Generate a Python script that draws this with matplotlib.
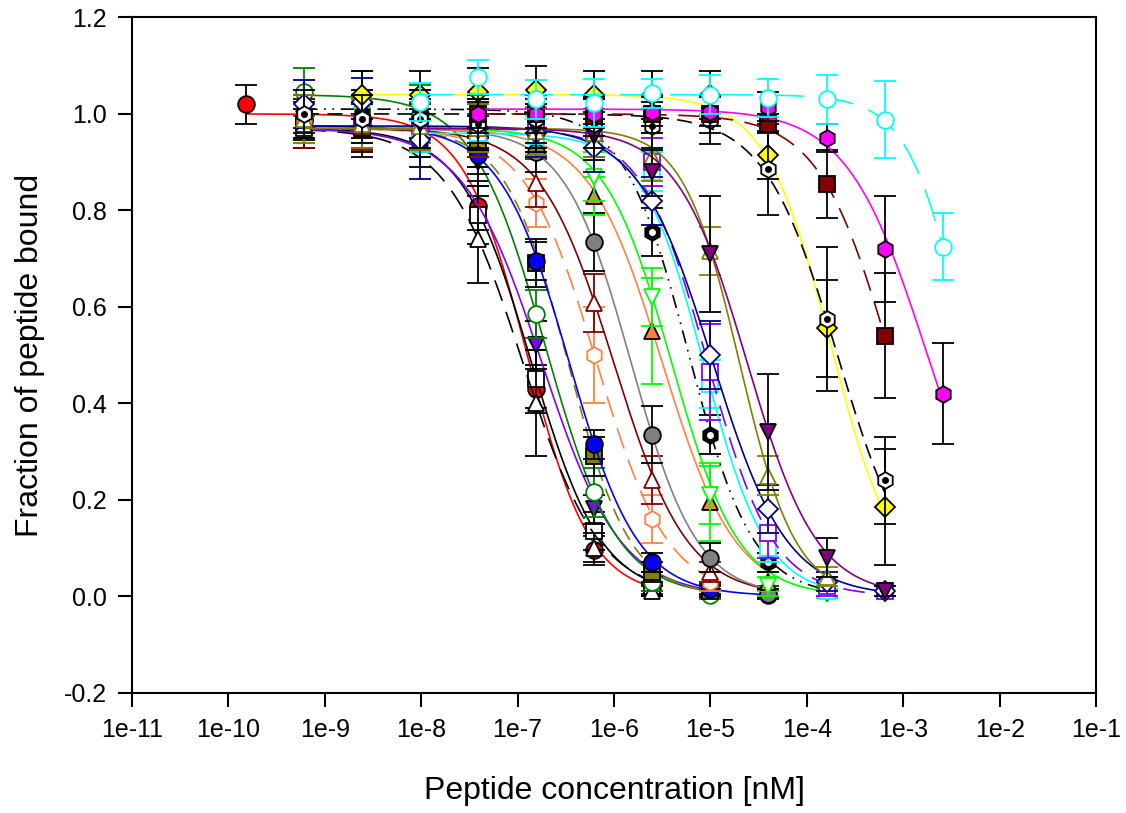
import matplotlib
matplotlib.use("Agg")
import matplotlib.pyplot as plt
import numpy as np

plt.rcParams['font.family'] = ['Liberation Sans', 'DejaVu Sans']

# dilution series (nM), 4-fold steps
conc = [1.53e-10, 6.1e-10, 2.44e-9, 9.77e-9, 3.91e-8, 1.56e-7, 6.25e-7,
        2.5e-6, 1e-5, 4e-5, 1.6e-4, 6.4e-4, 2.56e-3]

x_ticks = [1e-11, 1e-10, 1e-9, 1e-8, 1e-7, 1e-6, 1e-5, 1e-4, 1e-3, 1e-2, 1e-1]
x_tick_labels = ['1e-11', '1e-10', '1e-9', '1e-8', '1e-7', '1e-6', '1e-5',
                 '1e-4', '1e-3', '1e-2', '1e-1']
y_ticks = [-0.2, 0.0, 0.2, 0.4, 0.6, 0.8, 1.0, 1.2]

# series: index of first concentration, measured fraction bound, error
red_circle_start = 0
red_circle_y = [1.02, 0.99, 0.98, 0.97, 0.81, 0.43, 0.095, 0.015]
red_circle_err = [0.04, 0.04, 0.05, 0.06, 0.05, 0.05, 0.03, 0.01]

black_square_start = 1
black_square_y = [0.97, 0.98, 0.97, 0.79, 0.45, 0.135, 0.02]
black_square_err = [0.04, 0.05, 0.06, 0.06, 0.06, 0.04, 0.02]

black_triangle_start = 1
black_triangle_y = [0.98, 0.97, 0.95, 0.74, 0.40, 0.10, 0.01]
black_triangle_err = [0.05, 0.06, 0.06, 0.09, 0.11, 0.03, 0.01]

violet_tri_start = 1
violet_tri_y = [0.99, 0.98, 0.97, 0.90, 0.52, 0.18, 0.03, 0.005]
violet_tri_err = [0.04, 0.05, 0.05, 0.05, 0.05, 0.03, 0.02, 0.01]

green_circle_start = 1
green_circle_y = [1.045, 1.03, 1.0, 0.95, 0.585, 0.215, 0.03, 0.003]
green_circle_err = [0.05, 0.06, 0.06, 0.06, 0.05, 0.05, 0.02, 0.01]

olive_square_start = 1
olive_square_y = [0.98, 0.97, 0.97, 0.93, 0.69, 0.29, 0.05, 0.01]
olive_square_err = [0.05, 0.05, 0.05, 0.04, 0.05, 0.04, 0.02, 0.01]

blue_circle_start = 1
blue_circle_y = [0.985, 0.99, 0.97, 0.915, 0.695, 0.315, 0.07, 0.015, 0.003]
blue_circle_err = [0.04, 0.05, 0.05, 0.04, 0.04, 0.03, 0.02, 0.01, 0.01]

coral_hex_start = 1
coral_hex_y = [0.99, 0.98, 0.97, 0.96, 0.815, 0.50, 0.16, 0.03]
coral_hex_err = [0.05, 0.05, 0.05, 0.05, 0.05, 0.10, 0.05, 0.02]

darkred_tri_start = 1
darkred_tri_y = [0.98, 0.975, 0.97, 0.96, 0.857, 0.608, 0.24, 0.05, 0.01]
darkred_tri_err = [0.05, 0.05, 0.05, 0.05, 0.05, 0.06, 0.05, 0.02, 0.01]

gray_circle_start = 2
gray_circle_y = [0.99, 0.97, 0.97, 0.92, 0.735, 0.335, 0.08, 0.005]
gray_circle_err = [0.05, 0.05, 0.05, 0.04, 0.06, 0.06, 0.03, 0.01]

coral_tri_start = 2
coral_tri_y = [0.99, 0.98, 0.97, 0.96, 0.83, 0.55, 0.195, 0.03]
coral_tri_err = [0.05, 0.05, 0.05, 0.05, 0.04, 0.11, 0.08, 0.02]

lime_tri_start = 2
lime_tri_y = [1.0, 0.98, 0.97, 0.97, 0.87, 0.62, 0.21, 0.02, 0.005]
lime_tri_err = [0.05, 0.05, 0.05, 0.05, 0.05, 0.06, 0.06, 0.02, 0.01]

black_hex_start = 1
black_hex_y = [1.0, 1.0, 1.0, 0.99, 0.97, 0.96, 0.755, 0.335, 0.07, 0.01]
black_hex_err = [0.04, 0.05, 0.05, 0.05, 0.04, 0.05, 0.05, 0.04, 0.02, 0.01]

cyan_square_start = 3
cyan_square_y = [0.96, 0.96, 0.955, 0.95, 0.88, 0.44, 0.10, 0.01]
cyan_square_err = [0.04, 0.04, 0.04, 0.04, 0.04, 0.05, 0.03, 0.01]

violet_square_start = 2
violet_square_y = [0.98, 0.975, 0.97, 0.97, 0.96, 0.90, 0.465, 0.13, 0.02, 0.01]
violet_square_err = [0.05, 0.05, 0.05, 0.05, 0.05, 0.05, 0.10, 0.05, 0.02, 0.01]

navy_diamond_start = 1
navy_diamond_y = [1.02, 1.025, 0.945, 0.97, 0.96, 0.93, 0.82, 0.50, 0.18, 0.03, 0.01]
navy_diamond_err = [0.05, 0.05, 0.08, 0.05, 0.05, 0.05, 0.05, 0.07, 0.05, 0.02, 0.01]

olive_tri_start = 1
olive_tri_y = [0.99, 0.98, 0.975, 0.97, 0.965, 0.96, 0.91, 0.715, 0.25, 0.04]
olive_tri_err = [0.05, 0.05, 0.05, 0.05, 0.05, 0.05, 0.05, 0.05, 0.04, 0.02]

purple_tri_start = 3
purple_tri_y = [0.98, 0.975, 0.97, 0.955, 0.88, 0.71, 0.34, 0.08, 0.01]
purple_tri_err = [0.05, 0.05, 0.05, 0.05, 0.05, 0.12, 0.12, 0.04, 0.01]

yellow_diamond_start = 2
yellow_diamond_y = [1.04, 1.04, 1.045, 1.05, 1.04, 1.04, 1.04, 0.915, 0.555, 0.185]
yellow_diamond_err = [0.05, 0.05, 0.05, 0.05, 0.05, 0.05, 0.05, 0.05, 0.10, 0.12]

white_hex_start = 1
white_hex_y = [1.0, 0.99, 0.99, 0.98, 0.99, 0.98, 0.975, 0.987, 0.885, 0.575, 0.24]
white_hex_err = [0.05, 0.05, 0.06, 0.05, 0.05, 0.05, 0.05, 0.05, 0.095, 0.15, 0.09]

maroon_square_start = 4
maroon_square_y = [1.0, 1.0, 0.995, 1.0, 1.0, 0.98, 0.855, 0.54]
maroon_square_err = [0.04, 0.04, 0.04, 0.04, 0.04, 0.02, 0.07, 0.13]

magenta_hex_start = 4
magenta_hex_y = [1.0, 1.0, 1.0, 1.005, 1.005, 1.015, 0.95, 0.72, 0.42]
magenta_hex_err = [0.03, 0.03, 0.03, 0.03, 0.03, 0.03, 0.03, 0.11, 0.105]

cyan_circle_start = 3
cyan_circle_y = [1.025, 1.077, 1.03, 1.023, 1.043, 1.04, 1.033, 1.03, 0.988, 0.725]
cyan_circle_err = [0.04, 0.035, 0.04, 0.05, 0.03, 0.04, 0.04, 0.05, 0.08, 0.07]

# four-parameter logistic fits (bottom = 0)
series_names = ['red_circle', 'black_square', 'black_triangle', 'violet_tri',
                'green_circle', 'olive_square', 'blue_circle', 'coral_hex',
                'darkred_tri', 'gray_circle', 'coral_tri', 'lime_tri',
                'black_hex', 'cyan_square', 'violet_square', 'navy_diamond',
                'olive_tri', 'purple_tri', 'yellow_diamond', 'white_hex',
                'maroon_square', 'magenta_hex', 'cyan_circle']
fit_top = [1.0, 0.97, 0.97, 0.97, 1.04, 0.97, 0.975, 0.97, 0.97, 0.97, 0.97, 0.97,
           1.01, 0.96, 0.97, 0.975, 0.97, 0.97, 1.04, 1.0, 1.0, 1.01, 1.04]
fit_ic50 = [1.26e-7, 1.39e-7, 1.13e-7, 1.78e-7, 1.93e-7, 3.33e-7, 3.4e-7, 6.6e-7,
            9.9e-7, 1.5e-6, 3.16e-6, 3.95e-6, 5.9e-6, 8.6e-6, 9.35e-6, 1.05e-5,
            2.0e-5, 2.4e-5, 1.78e-4, 2.08e-4, 7.35e-4, 1.75e-3, 4.5e-3]
fit_hill = [1.32, 1.2, 1.1, 1.07, 1.17, 1.35, 1.22, 1.18, 1.14, 1.27, 1.15, 1.25,
            1.3, 1.35, 1.28, 1.13, 1.5, 1.2, 1.27, 1.15, 1.16, 1.05, 1.48]

LONG = (13, 7)
styles = {
    'red_circle': dict(c='#ff0000', m='o', fc='#ff0000', ls='-', ec='black'),
    'black_square': dict(c='black', m='s', fc='white', ls='-', ec='black'),
    'black_triangle': dict(c='black', m='^', fc='white', ls=(0, LONG), ec='black'),
    'violet_tri': dict(c='#8000ff', m='v', fc='#8000ff', ls='-', ec='black'),
    'green_circle': dict(c='#008000', m='o', fc='white', ls='-', ec='#008000'),
    'olive_square': dict(c='#808000', m='s', fc='#808000', ls=(0, (8, 5)), ec='black'),
    'blue_circle': dict(c='#0000ff', m='o', fc='#0000ff', ls='-', ec='black'),
    'coral_hex': dict(c='#ff8040', m='h', fc='white', ls=(0, LONG), ec='#ff8040'),
    'darkred_tri': dict(c='#800000', m='^', fc='white', ls='-', ec='#800000'),
    'gray_circle': dict(c='#808080', m='o', fc='#808080', ls='-', ec='black'),
    'coral_tri': dict(c='#ff8040', m='^', fc='#ff8040', ls='-', ec='#00ff00'),
    'lime_tri': dict(c='#00ff00', m='v', fc='white', ls='-', ec='#00ff00'),
    'black_hex': dict(c='black', m='h', fc='black', ls=(0, (8, 4, 1, 4, 1, 4)), ec='black'),
    'cyan_square': dict(c='#00ffff', m='s', fc='white', ls='-', ec='#00ffff'),
    'violet_square': dict(c='#8000ff', m='s', fc='white', ls=(0, LONG), ec='#8000ff'),
    'navy_diamond': dict(c='#000080', m='D', fc='white', ls='-', ec='#000080'),
    'olive_tri': dict(c='#808000', m='^', fc='white', ls='-', ec='#808000'),
    'purple_tri': dict(c='#800080', m='v', fc='#800080', ls='-', ec='black'),
    'yellow_diamond': dict(c='#ffff00', m='D', fc='#ffff00', ls='-', ec='black'),
    'white_hex': dict(c='black', m='h', fc='white', ls=(0, (9, 5)), ec='black'),
    'maroon_square': dict(c='#800000', m='s', fc='#800000', ls=(0, LONG), ec='black'),
    'magenta_hex': dict(c='#ff00ff', m='h', fc='#ff00ff', ls='-', ec='black'),
    'cyan_circle': dict(c='#00ffff', m='o', fc='white', ls=(0, (20, 10)), ec='#00ffff'),
}


def hill(x, top, ic50, h):
    return top / (1.0 + (x / ic50) ** h)


fig = plt.figure(figsize=(11.26, 8.13), dpi=100)
ax = fig.add_axes([0.1172, 0.1482, 0.8562, 0.8303])

data = globals()
for i, name in enumerate(series_names):
    st = styles[name]
    start = data[name + '_start']
    y = np.array(data[name + '_y'])
    err = np.array(data[name + '_err'])
    x = np.array(conc[start:start + len(y)])
    z = 2 + i * 0.01

    xs = np.logspace(np.log10(x[0]), np.log10(x[-1]), 300)
    ax.plot(xs, hill(xs, fit_top[i], fit_ic50[i], fit_hill[i]), color=st['c'],
            lw=1.2, ls=st['ls'], zorder=z)
    ax.errorbar(x, y, yerr=err, fmt='none', ecolor=st['ec'], elinewidth=1.3,
                capsize=8, capthick=1.3, zorder=z + 0.003)
    mec = 'black' if st['fc'] != 'white' else st['c']
    if name in ('white_hex', 'black_hex'):
        mec = 'black'
    ax.plot(x, y, ls='none', marker=st['m'], ms=12 if st['m'] != 'D' else 10,
            mfc=st['fc'], mec=mec, mew=1.3, zorder=z + 0.006)
    if name == 'black_hex':
        ax.plot(x, y, ls='none', marker='o', ms=4, mfc='white', mec='white', zorder=z + 0.007)
    if name == 'white_hex':
        ax.plot(x, y, ls='none', marker='o', ms=4, mfc='black', mec='black', zorder=z + 0.007)

ax.set_xscale('log')
ax.set_xlim(1e-11, 1e-1)
ax.set_ylim(-0.2, 1.2)
ax.set_xticks(x_ticks)
ax.set_xticklabels(x_tick_labels)
ax.xaxis.set_minor_locator(matplotlib.ticker.NullLocator())
ax.set_yticks(y_ticks)
ax.set_yticklabels(['%.1f' % v for v in y_ticks])
ax.tick_params(direction='out', length=10, width=1.5, labelsize=18, pad=8)
for sp in ax.spines.values():
    sp.set_linewidth(1.5)

ax.set_xlabel('Peptide concentration [nM]', fontsize=23)
ax.set_ylabel('Fraction of peptide bound', fontsize=23)
ax.xaxis.set_label_coords(0.5, -0.124)
ax.yaxis.set_label_coords(-0.09, 0.5)

fig.savefig('out.png', dpi=100)
